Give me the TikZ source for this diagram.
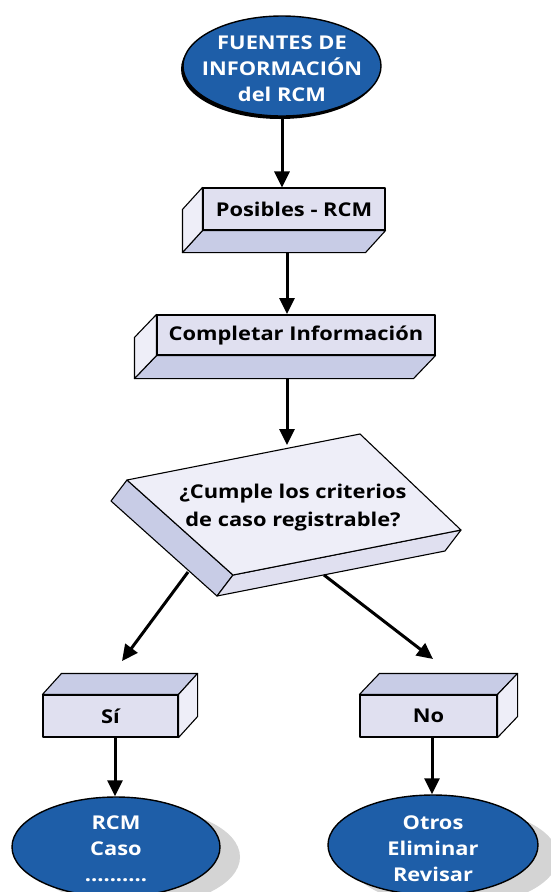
\documentclass[tikz,border=0pt]{standalone}
\usepackage{fontspec}
\setmainfont{Open Sans}[FakeStretch=1.15]
\usetikzlibrary{arrows.meta,calc,shapes.geometric}
\definecolor{fr}{RGB}{224,224,240}
\definecolor{dk}{RGB}{200,204,230}
\definecolor{lt}{RGB}{238,238,248}
\definecolor{bl}{RGB}{30,94,168}
\definecolor{sh}{RGB}{212,212,212}
\begin{document}
\begin{tikzpicture}[x=1pt,y=-1pt,
 face/.style={draw=black, line width=1.1pt, line join=round},
 lbl/.style={font=\bfseries\fontsize{19}{26}\selectfont, align=center},
 front/.style={face, fill=fr, inner sep=0pt, lbl},
 oval/.style={ellipse, draw=black, line width=1.4pt, fill=bl, inner sep=0pt},
 ovaltext/.style={lbl, text=white},
 arr/.style={line width=3pt, -{Triangle[length=16pt,width=15pt]}}]
\useasboundingbox (0,0) rectangle (551,892);

% top ellipse
\fill[black] (280,69) ellipse [x radius=99pt, y radius=50pt];
\node[oval, minimum width=198pt, minimum height=100pt] (top) at (282,66) {};
\node[ovaltext] (topT) at (282,69) {FUENTES DE\\INFORMACIÓN\\del RCM};

% Posibles box
\node[front, minimum width=182pt, minimum height=42pt] (pos) at (294,209) {Posibles - RCM};
\draw[face, fill=dk] (pos.south west) -- (pos.south east) -- ++(-20,22) -- ($(pos.south west)+(-20,22)$) -- cycle;
\draw[face, fill=lt] (pos.north west) -- (pos.south west) -- ++(-20,22) -- ($(pos.north west)+(-20,22)$) -- cycle;

% Completar box
\node[front, minimum width=278pt, minimum height=40pt] (comp) at (296,335) {Completar Información};
\draw[face, fill=dk] (comp.south west) -- (comp.south east) -- ++(-22,23) -- ($(comp.south west)+(-22,23)$) -- cycle;
\draw[face, fill=lt] (comp.north west) -- (comp.south west) -- ++(-22,23) -- ($(comp.north west)+(-22,23)$) -- cycle;

% Decision
\coordinate (dA) at (127,480);
\coordinate (dB) at (360,434);
\coordinate (dC) at (461,530);
\coordinate (dD) at (233,575);
\draw[face, fill=dk] (dA) -- (dD) -- ++(-16,21) -- ($(dA)+(-16,21)$) -- cycle;
\draw[face, fill=fr] (dD) -- (dC) -- ++(-16,21) -- ($(dD)+(-16,21)$) -- cycle;
\draw[face, fill=lt] (dA) -- (dB) -- (dC) -- (dD) -- cycle;
\node[lbl, font=\bfseries\fontsize{19}{28}\selectfont] (dec) at (293,508) {¿Cumple los criterios\\de caso registrable?};

% Si box
\node[front, minimum width=135pt, minimum height=42pt] (si) at (110.5,716) {Sí};
\draw[face, fill=dk] (si.north west) -- (si.north east) -- ++(19,-21) -- ($(si.north west)+(19,-21)$) -- cycle;
\draw[face, fill=lt] (si.north east) -- (si.south east) -- ++(19,-21) -- ($(si.north east)+(19,-21)$) -- cycle;

% No box
\node[front, minimum width=137pt, minimum height=42pt] (no) at (428.5,716) {No};
\draw[face, fill=dk] (no.north west) -- (no.north east) -- ++(20,-21) -- ($(no.north west)+(20,-21)$) -- cycle;
\draw[face, fill=lt] (no.north east) -- (no.south east) -- ++(20,-21) -- ($(no.north east)+(20,-21)$) -- cycle;

% bottom ellipses
\fill[sh] (136,857) ellipse [x radius=104pt, y radius=50pt];
\node[oval, minimum width=208pt, minimum height=100pt] (rcm) at (116,847) {};
\node[ovaltext] (rcmT) at (116,849) {RCM\\Caso\\..........};
\fill[sh] (453,857) ellipse [x radius=105pt, y radius=50pt];
\node[oval, minimum width=210pt, minimum height=100pt] (otr) at (433,845) {};
\node[ovaltext] (otrT) at (433,849) {Otros\\Eliminar\\Revisar};

% connectors
\draw[arr] (top.south) -- (top.south |- pos.north);
\coordinate (a2s) at (287,252);
\coordinate (a2e) at (287,314);
\draw[arr] (a2s) -- (a2e);
\coordinate (a3s) at (287,378);
\coordinate (a3e) at (287,445);
\draw[arr] (a3s) -- (a3e);
\coordinate (dL) at (188,572);
\coordinate (dLe) at (122,661);
\coordinate (dR) at (324,575);
\coordinate (dRe) at (433,659);
\draw[arr] (dL) -- (dLe);
\draw[arr] (dR) -- (dRe);
\coordinate (siB) at (115,737);
\coordinate (noB) at (432,737);
\draw[arr] (siB) -- (siB |- rcm.north);
\draw[arr] (noB) -- (noB |- otr.north);
\end{tikzpicture}
\end{document}
